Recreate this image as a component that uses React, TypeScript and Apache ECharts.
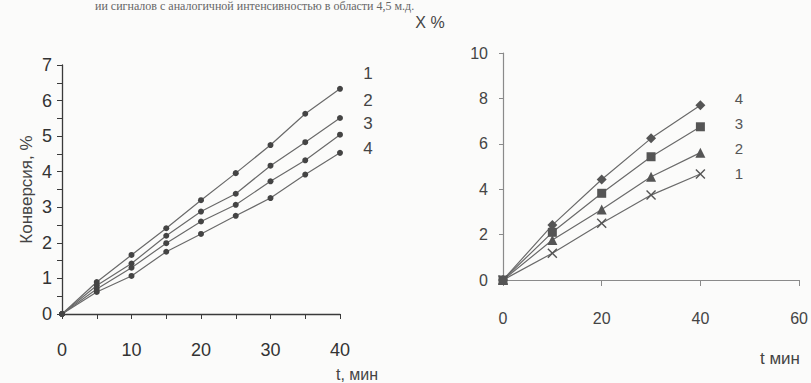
import React, { useEffect, useRef } from "react";
import * as echarts from "echarts";

const leftTimes = [0, 5, 10, 15, 20, 25, 30, 35, 40];
const leftSeries1 = [0, 0.9, 1.66, 2.41, 3.2, 3.96, 4.75, 5.63, 6.33];
const leftSeries2 = [0, 0.8, 1.42, 2.2, 2.88, 3.38, 4.17, 4.83, 5.51];
const leftSeries3 = [0, 0.7, 1.3, 1.99, 2.6, 3.07, 3.73, 4.32, 5.04];
const leftSeries4 = [0, 0.62, 1.07, 1.75, 2.25, 2.76, 3.26, 3.92, 4.53];
const leftNames = ["1", "2", "3", "4"];

const rightTimes = [0, 10, 20, 30, 40];
const rightSeries1 = [0, 1.18, 2.5, 3.74, 4.67];
const rightSeries2 = [0, 1.76, 3.11, 4.55, 5.61];
const rightSeries3 = [0, 2.1, 3.82, 5.43, 6.75];
const rightSeries4 = [0, 2.42, 4.43, 6.24, 7.7];
const rightNames = ["1", "2", "3", "4"];

const crossPath =
  "path://M0,1L1,0L5,4L9,0L10,1L6,5L10,9L9,10L5,6L1,10L0,9L4,5Z";

const pair = (xs: number[], ys: number[]) => xs.map((x, i) => [x, ys[i]]);

export default function App() {
  const ref = useRef<HTMLDivElement>(null);
  useEffect(() => {
    if (!ref.current) return;
    const chart = echarts.init(ref.current, null, { renderer: "svg" });
    const font = "Liberation Sans, Arial, sans-serif";
    const dark = "#3a3a3a";
    const mid = "#6a6a6a";
    const leftData = [leftSeries1, leftSeries2, leftSeries3, leftSeries4];
    const rightData = [rightSeries1, rightSeries2, rightSeries3, rightSeries4];
    const rightSymbols = [crossPath, "triangle", "rect", "diamond"];
    const rightSizes = [10, 10, 9, 10];

    chart.setOption({
      animation: false,
      backgroundColor: "#fbfbfa",
      grid: [
        { left: 62, top: 65, width: 278, height: 249 },
        { left: 503, top: 53, width: 297, height: 227 },
      ],
      xAxis: [
        {
          gridIndex: 0,
          type: "value",
          min: 0,
          max: 40,
          interval: 5,
          axisLine: { lineStyle: { color: dark, width: 1.3 } },
          axisTick: { inside: false, length: 5, lineStyle: { color: dark } },
          splitLine: { show: false },
          axisLabel: {
            margin: 27,
            fontSize: 18,
            fontFamily: font,
            color: "#333",
            formatter: (v: number) => (v % 10 === 0 ? String(v) : ""),
          },
        },
        {
          gridIndex: 1,
          type: "value",
          min: 0,
          max: 60,
          interval: 20,
          axisLine: { lineStyle: { color: "#8a8a8a", width: 1.2 } },
          axisTick: { inside: false, length: 6, lineStyle: { color: "#8a8a8a" } },
          splitLine: { show: false },
          axisLabel: {
            margin: 30,
            fontSize: 16,
            fontFamily: font,
            color: "#444",
          },
        },
      ],
      yAxis: [
        {
          gridIndex: 0,
          type: "value",
          min: 0,
          max: 7,
          interval: 0.5,
          name: "Конверсия, %",
          nameLocation: "middle",
          nameGap: 27,
          nameTextStyle: { fontSize: 17, fontFamily: font, color: "#444" },
          axisLine: { show: true, lineStyle: { color: dark, width: 1.3 } },
          axisTick: { show: true, inside: false, length: 5, lineStyle: { color: dark } },
          splitLine: { show: false },
          axisLabel: {
            margin: 10,
            fontSize: 18,
            fontFamily: font,
            color: "#333",
            formatter: (v: number) => (Number.isInteger(v) ? String(v) : ""),
          },
        },
        {
          gridIndex: 1,
          type: "value",
          min: 0,
          max: 10,
          interval: 2,
          axisLine: { show: true, lineStyle: { color: "#8a8a8a", width: 1.2 } },
          axisTick: { show: true, inside: false, length: 4, lineStyle: { color: "#8a8a8a" } },
          splitLine: { show: false },
          axisLabel: {
            margin: 15,
            fontSize: 16,
            fontFamily: font,
            color: "#444",
          },
        },
      ],
      series: [
        ...leftData.map((d, i) => ({
          name: "L" + leftNames[i],
          type: "line",
          xAxisIndex: 0,
          yAxisIndex: 0,
          data: pair(leftTimes, d),
          symbol: "circle",
          symbolSize: 6,
          showAllSymbol: true,
          lineStyle: { color: mid, width: 1.2 },
          itemStyle: { color: "#444" },
        })),
        ...rightData.map((d, i) => ({
          name: "R" + rightNames[i],
          type: "line",
          xAxisIndex: 1,
          yAxisIndex: 1,
          data: pair(rightTimes, d),
          symbol: rightSymbols[i],
          symbolSize: rightSizes[i],
          showAllSymbol: true,
          lineStyle: { color: mid, width: 1.2 },
          itemStyle: { color: "#555" },
        })),
      ],
      graphic: [
        {
          type: "text",
          x: 95,
          y: 0,
          style: {
            text: "ии сигналов с аналогичной интенсивностью в области 4,5 м.д.",
            font: "12px 'Liberation Serif', serif",
            fill: "#666",
          },
        },
        {
          type: "text",
          x: 430,
          y: 22,
          style: {
            text: "X %",
            font: "16px 'Liberation Sans', Arial, sans-serif",
            fill: "#444",
            align: "center",
            verticalAlign: "middle",
          },
        },
        ...[73, 100, 123, 148].map((y, i) => ({
          type: "text",
          x: 368,
          y,
          style: {
            text: leftNames[i],
            font: "17px 'Liberation Sans', Arial, sans-serif",
            fill: "#444",
            align: "center",
            verticalAlign: "middle",
          },
        })),
        ...[173, 148, 123, 98].map((y, i) => ({
          type: "text",
          x: 739,
          y,
          style: {
            text: rightNames[i],
            font: "15px 'Liberation Sans', Arial, sans-serif",
            fill: "#555",
            align: "center",
            verticalAlign: "middle",
          },
        })),
        {
          type: "text",
          x: 357,
          y: 374,
          style: {
            text: "t, мин",
            font: "16px 'Liberation Sans', Arial, sans-serif",
            fill: "#444",
            align: "center",
            verticalAlign: "middle",
          },
        },
        {
          type: "text",
          x: 780,
          y: 358,
          style: {
            text: "t мин",
            font: "17px 'Liberation Sans', Arial, sans-serif",
            fill: "#444",
            align: "center",
            verticalAlign: "middle",
          },
        },
      ],
    });
    return () => chart.dispose();
  }, []);
  return <div ref={ref} style={{ width: 811, height: 383, position: "absolute", left: 0, top: 0 }} />;
}
